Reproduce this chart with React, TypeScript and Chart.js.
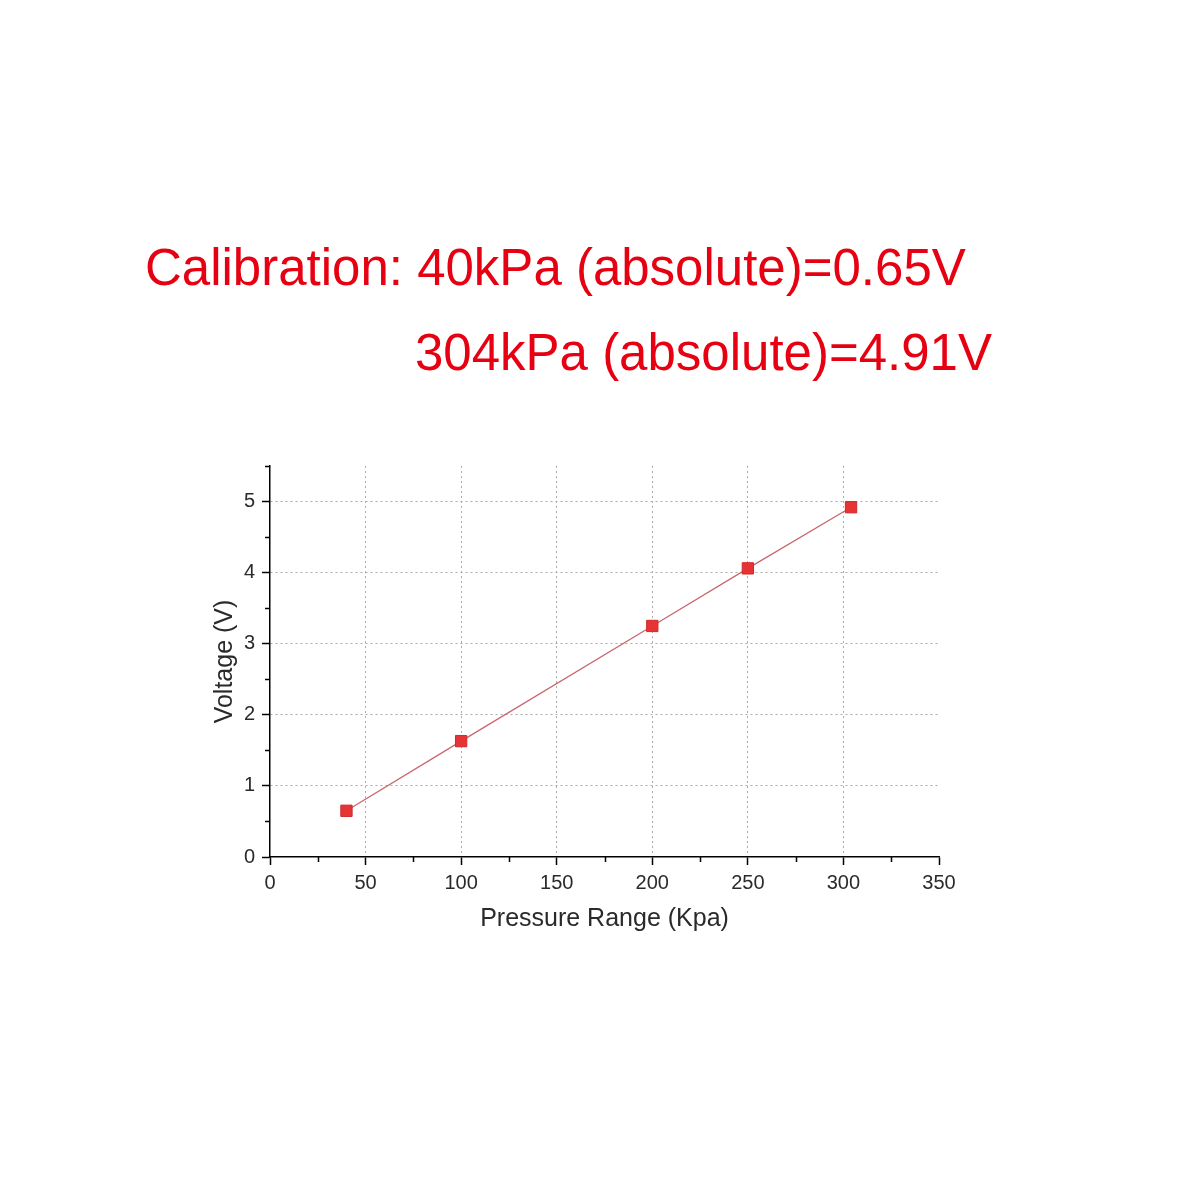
import React, { useEffect, useRef } from "react";
import { Chart, registerables } from "chart.js";

Chart.register(...registerables);

const pressure = [40, 100, 200, 250, 304];
const voltage = [0.65, 1.63, 3.25, 4.06, 4.92];
const xMajorTicks = [0, 50, 100, 150, 200, 250, 300, 350];
const xMinorTicks = [25, 75, 125, 175, 225, 275, 325];
const yMajorTicks = [0, 1, 2, 3, 4, 5];
const yMinorTicks = [0.5, 1.5, 2.5, 3.5, 4.5, 5.5];
const titleLine1 = "Calibration: 40kPa (absolute)=0.65V";
const titleLine2 = "304kPa (absolute)=4.91V";
const xTitle = "Pressure Range (Kpa)";
const yTitle = "Voltage (V)";

const FONT = "'Liberation Sans', Arial, sans-serif";

const minorTickPlugin = {
  id: "minorTicks",
  afterDraw(chart: any) {
    const ctx = chart.ctx;
    const xs = chart.scales.x;
    const ys = chart.scales.y;
    const area = chart.chartArea;
    ctx.save();
    ctx.strokeStyle = "#000";
    ctx.lineWidth = 1.5;
    ctx.beginPath();
    xMinorTicks.forEach((v) => {
      const px = Math.round(xs.getPixelForValue(v)) + 0.5;
      ctx.moveTo(px, area.bottom);
      ctx.lineTo(px, area.bottom + 5);
    });
    yMinorTicks.forEach((v) => {
      const py = Math.round(ys.getPixelForValue(v)) + 0.5;
      ctx.moveTo(area.left, py);
      ctx.lineTo(area.left - 5, py);
    });
    ctx.stroke();
    ctx.restore();
  },
};

export default function App() {
  const ref = useRef<HTMLCanvasElement>(null);

  useEffect(() => {
    if (!ref.current) return;
    const dotted = (ctx: any, last: number) =>
      ctx.tick && ctx.tick.value !== 0 && ctx.tick.value !== last ? "#ababab" : "rgba(0,0,0,0)";
    const chart = new Chart(ref.current, {
      type: "scatter",
      data: {
        datasets: [
          {
            data: pressure.map((p, i) => ({ x: p, y: voltage[i] })),
            showLine: true,
            borderColor: "#c8646c",
            borderWidth: 1.2,
            pointStyle: "rect",
            pointRadius: 8,
            pointBackgroundColor: "#e63434",
            pointBorderColor: "#d02a2a",
            pointBorderWidth: 1,
          },
        ],
      },
      plugins: [minorTickPlugin],
      options: {
        animation: false,
        responsive: false,
        maintainAspectRatio: false,
        layout: { padding: { left: 206, top: 466, right: 261, bottom: 1200 - 857 - 81 } },
        plugins: { legend: { display: false }, tooltip: { enabled: false } },
        scales: {
          x: {
            type: "linear",
            min: 0,
            max: 350,
            afterFit: (s: any) => {
              s.height = 81;
            },
            afterBuildTicks: (s: any) => {
              s.ticks = xMajorTicks.map((v) => ({ value: v }));
            },
            ticks: {
              font: { family: FONT, size: 20 },
              color: "#2a2a2a",
              padding: 6,
              maxRotation: 0,
              autoSkip: false,
              callback: (v: any) => String(v),
            },
            grid: {
              color: (c: any) => dotted(c, 350),
              lineWidth: 1,
              drawTicks: true,
              tickLength: 8,
              tickColor: "#000",
              tickWidth: 1.5,
              tickBorderDash: [],
            } as any,
            border: { display: true, color: "#000", width: 1.5, dash: [2, 3] } as any,
            title: {
              display: true,
              text: xTitle,
              font: { family: FONT, size: 25 },
              color: "#2a2a2a",
              padding: { top: 4, bottom: 4 },
            },
          },
          y: {
            type: "linear",
            min: 0,
            max: 5.5,
            afterFit: (s: any) => {
              s.width = 64;
            },
            afterBuildTicks: (s: any) => {
              s.ticks = yMajorTicks.map((v) => ({ value: v }));
            },
            ticks: {
              font: { family: FONT, size: 20 },
              color: "#2a2a2a",
              padding: 7,
              autoSkip: false,
              callback: (v: any) => String(v),
            },
            grid: {
              color: (c: any) => dotted(c, 5.5),
              lineWidth: 1,
              drawTicks: true,
              tickLength: 8,
              tickColor: "#000",
              tickWidth: 1.5,
              tickBorderDash: [],
            } as any,
            border: { display: true, color: "#000", width: 1.5, dash: [2, 3] } as any,
            title: {
              display: true,
              text: yTitle,
              font: { family: FONT, size: 25 },
              color: "#2a2a2a",
              padding: { top: 4, bottom: 4 },
            },
          },
        },
      } as any,
    });
    return () => chart.destroy();
  }, []);

  return (
    <div style={{ position: "fixed", left: 0, top: 0, width: 1200, height: 1200, background: "#fff" }}>
      <canvas ref={ref} width={1200} height={1200} style={{ position: "absolute", left: 0, top: 0, width: 1200, height: 1200 }} />
      <div
        style={{
          position: "absolute",
          left: 145,
          top: 242,
          fontFamily: FONT,
          fontSize: 51,
          lineHeight: "51px",
          color: "#e60012",
          whiteSpace: "nowrap",
        }}
      >
        {titleLine1}
      </div>
      <div
        style={{
          position: "absolute",
          left: 415,
          top: 327,
          fontFamily: FONT,
          fontSize: 51,
          lineHeight: "51px",
          color: "#e60012",
          whiteSpace: "nowrap",
        }}
      >
        {titleLine2}
      </div>
    </div>
  );
}
